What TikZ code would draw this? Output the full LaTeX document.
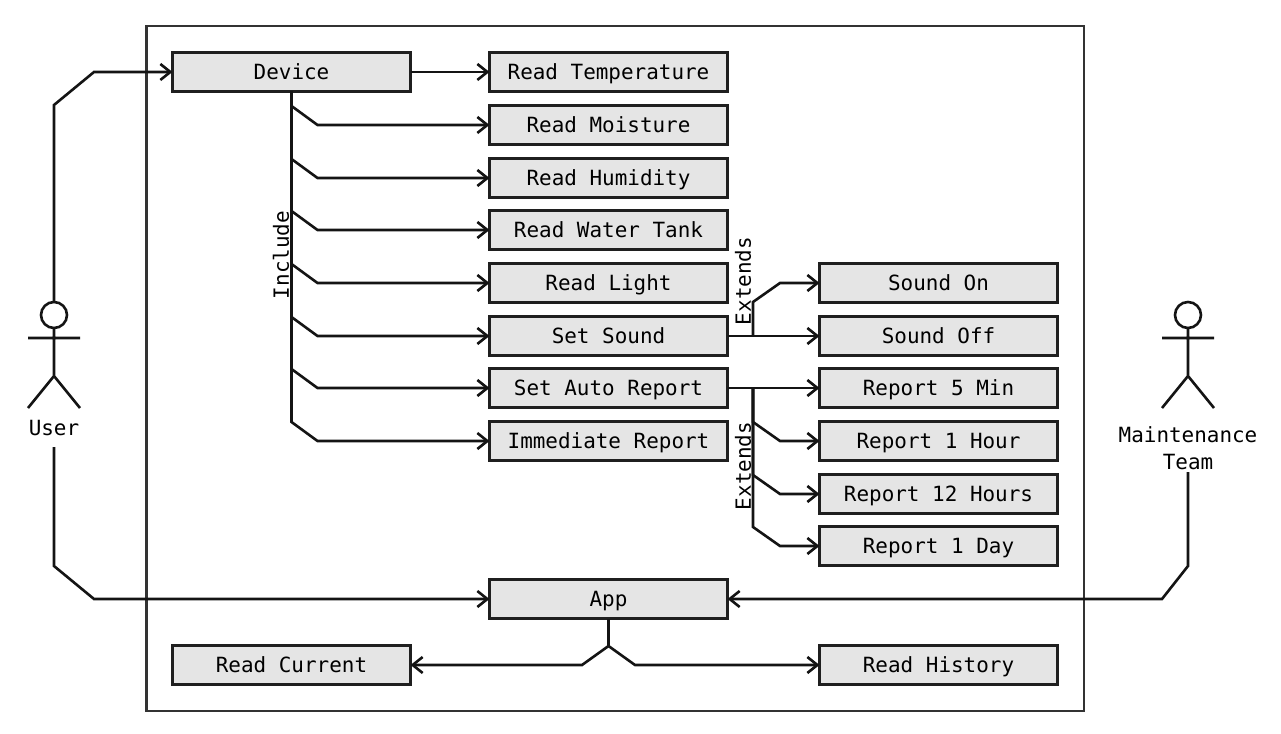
\documentclass[tikz,border=0pt]{standalone}
\usepackage{fontspec}
\setmonofont{DejaVu Sans Mono}
\usetikzlibrary{arrows.meta,calc}
\tikzset{
  x=0.75pt,y=-0.75pt,
  box/.style={draw=black!88,fill=black!10,line width=2.1pt,minimum width=178.6pt,minimum height=29.3pt,inner sep=0pt,outer sep=0pt,text height=12.6pt,text depth=2pt,font=\ttfamily\fontsize{15.7}{15.7}\selectfont},
  conn/.style={draw=black!92,line width=1.95pt,line join=miter,-{Straight Barb[length=7.5pt,width=12pt,line width=1.95pt]}},
  plain/.style={draw=black!92,line width=1.95pt},
  lab/.style={font=\ttfamily\fontsize{15.7}{15.7}\selectfont,inner sep=0pt,align=center},
}
\newcommand{\branchdown}[3]{\draw[conn] (#1) -- ($(#1 |- #2.west)+(0,-19)$) -- ($(#1 |- #2.west)+(#3,0)$) -- (#2.west);}
\newcommand{\branchup}[3]{\draw[conn] (#1) -- ($(#1 |- #2.west)+(0,19)$) -- ($(#1 |- #2.west)+(#3,0)$) -- (#2.west);}
\begin{document}
\begin{tikzpicture}
\useasboundingbox (0,0) rectangle (1281,734);
\fill[white] (0,0) rectangle (1281,734);
\draw[line width=2pt,black!80] (146.5,26) rectangle (1084,711);
% column 1
\node[box] (device) at (291.5,72) {Device};
\node[box] (current) at (291.5,665) {Read Current};
% column 2
\node[box] (temp) at (608.5,72) {Read Temperature};
\node[box] (moist) at (608.5,125) {Read Moisture};
\node[box] (humid) at (608.5,178) {Read Humidity};
\node[box] (tank) at (608.5,230) {Read Water Tank};
\node[box] (light) at (608.5,283) {Read Light};
\node[box] (sound) at (608.5,336) {Set Sound};
\node[box] (auto) at (608.5,388) {Set Auto Report};
\node[box] (immediate) at (608.5,441) {Immediate Report};
\node[box] (app) at (608.5,599) {App};
% column 3
\node[box] (on) at (938.5,283) {Sound On};
\node[box] (off) at (938.5,336) {Sound Off};
\node[box] (r5) at (938.5,388) {Report 5 Min};
\node[box] (r1h) at (938.5,441) {Report 1 Hour};
\node[box] (r12) at (938.5,494) {Report 12 Hours};
\node[box] (r1d) at (938.5,546) {Report 1 Day};
\node[box] (history) at (938.5,665) {Read History};
% actors
\node[draw=black!92,line width=1.95pt,circle,minimum size=19.5pt,inner sep=0pt,outer sep=0pt] (uhead) at (54,315) {};
\node[lab] (user) at (54,428) {User};
\node[draw=black!92,line width=1.95pt,circle,minimum size=19.5pt,inner sep=0pt,outer sep=0pt] (mhead) at (1188,315) {};
\node[lab] (maint) at (1188,448) {Maintenance\\[4.4pt]Team};
\coordinate (uhip) at (54,376);
\coordinate (mhip) at (1188,376);
\draw[plain] (uhead.south) -- (uhip) -- (28,408) (uhip) -- (80,408) (28,338) -- (80,338);
\draw[plain] (mhead.south) -- (mhip) -- (1162,408) (mhip) -- (1214,408) (1162,338) -- (1214,338);
% actor connectors
\draw[conn] (uhead.north) -- (54,105) -- (94,72) -- (device.west);
\draw[conn] (54,447) -- (54,566) -- (94,599) -- (app.west);
\draw[conn] (1188,472) -- (1188,566) -- (1162,599) -- (app.east);
% device
\draw[conn] (device.east) -- (temp.west);
\branchdown{device.south}{moist}{26}
\branchdown{device.south}{humid}{26}
\branchdown{device.south}{tank}{26}
\branchdown{device.south}{light}{26}
\branchdown{device.south}{sound}{26}
\branchdown{device.south}{auto}{26}
\branchdown{device.south}{immediate}{26}
\node[lab,rotate=90] (inc) at (281,255) {Include};
% set sound
\coordinate (sj) at (753,336);
\draw[conn] (sound.east) -- (off.west);
\draw[plain] (sound.east) -- (sj);
\branchup{sj}{on}{27}
\node[lab,rotate=90] (ext1) at (743,281) {Extends};
% set auto report
\coordinate (aj) at (753,388);
\draw[conn] (auto.east) -- (r5.west);
\draw[plain] (auto.east) -- (aj);
\branchdown{aj}{r1h}{27}
\branchdown{aj}{r12}{27}
\branchdown{aj}{r1d}{27}
\node[lab,rotate=90] (ext2) at (743,466) {Extends};
% app
\coordinate (appj) at (608.5,646);
\draw[plain] (app.south) -- (appj);
\draw[conn] (appj) -- (582,665) -- (current.east);
\draw[conn] (appj) -- (635,665) -- (history.west);
\end{tikzpicture}
\end{document}
